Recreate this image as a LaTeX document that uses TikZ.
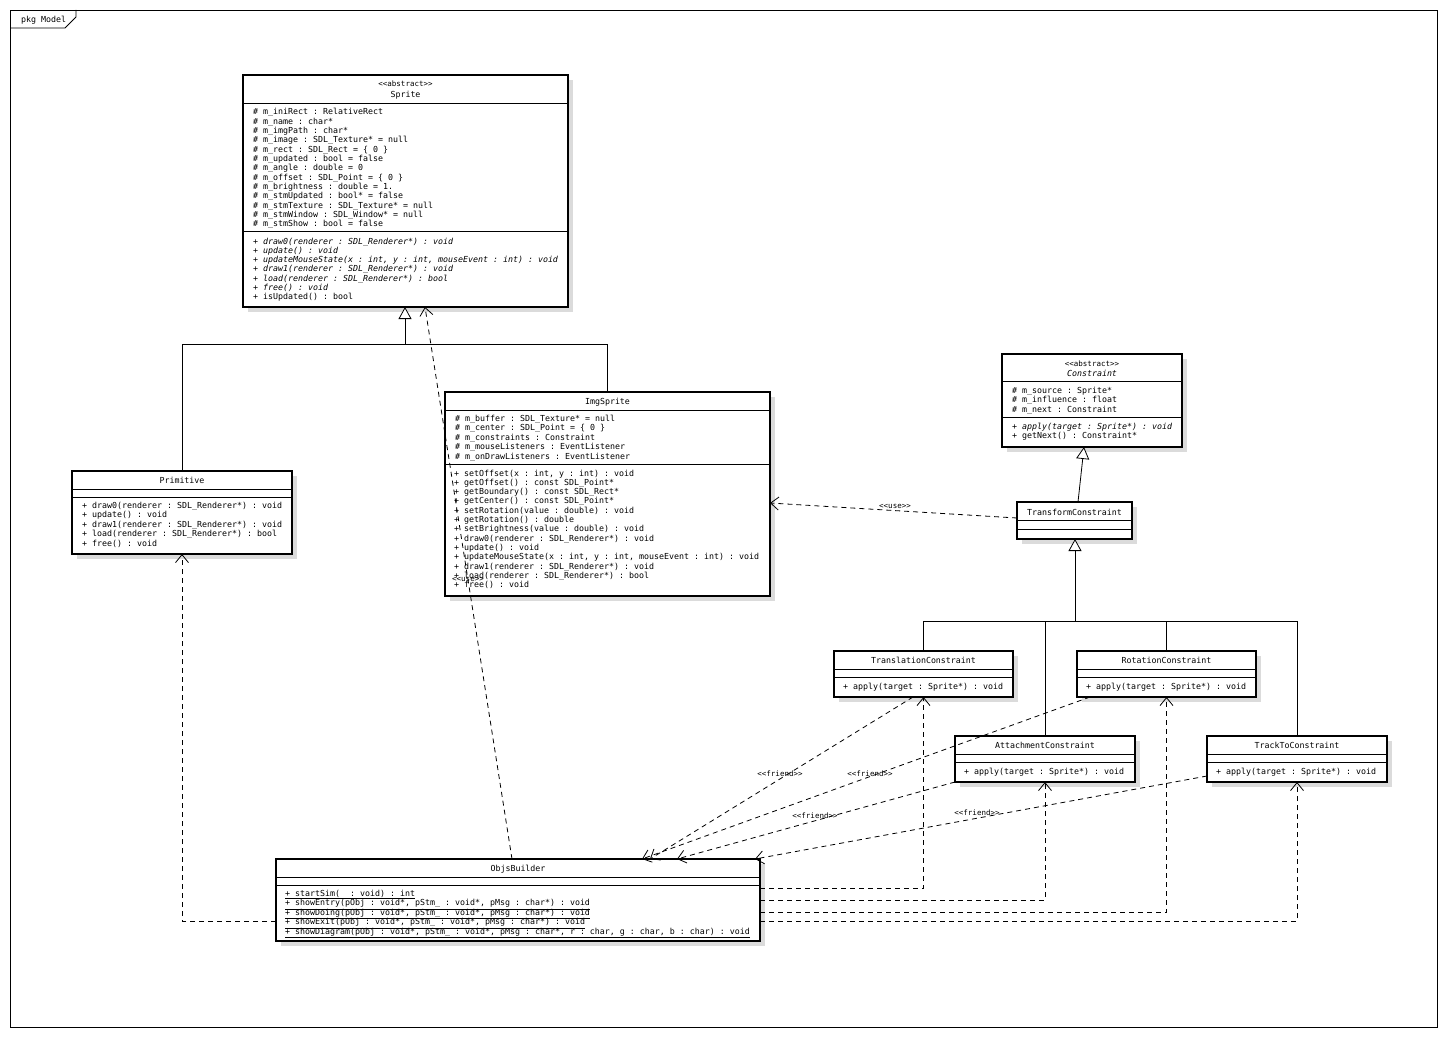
\documentclass[tikz,border=0pt]{standalone}
\usepackage{fontspec}
\setmonofont{DejaVu Sans Mono}
\usetikzlibrary{arrows.meta,shadows}
\definecolor{shade}{gray}{0.86}
\newcommand\umlfont{\ttfamily\fontsize{8.3}{9.33}\selectfont}
\newcommand\stfont{\ttfamily\fontsize{7.5}{9}\selectfont}
% rows of a compartment: prefix, x, first baseline, step, list of rows
\newcommand\umlrows[5]{%
  \foreach [count=\n] \row in {#5} {
    \node[row] (#1\n) at (#2, {#3+(\n-1)*#4}) {\row};
  }}
\begin{document}
\begin{tikzpicture}[x=1pt,y=-1pt,
  cls/.style={draw, line width=1.6pt, fill=white, inner sep=0pt, outer sep=0pt,
    drop shadow={shadow xshift=5pt, shadow yshift=-5pt, fill=shade, opacity=1}},
  sep/.style={line width=0.8pt},
  row/.style={anchor=base west, inner sep=0pt, font=\umlfont},
  title/.style={anchor=base, inner sep=0pt, font=\umlfont},
  stereo/.style={anchor=base, inner sep=0pt, font=\stfont},
  tag/.style={anchor=base, inner sep=0pt, font=\stfont},
  conn/.style={line width=0.8pt},
  inh/.style={conn, -{Triangle[open, length=12pt, width=13pt, fill=white]}},
  dep/.style={conn, dash pattern=on 5pt off 4pt, -{Straight Barb[length=8pt, width=13pt]}},
]
\useasboundingbox (0,0) rectangle (1448,1038);
\fill[white] (0,0) rectangle (1448,1038);

% package frame
\draw[line width=0.8pt] (10,10) rectangle (1437,1027);
\draw[line width=0.8pt] (10,28) -- (65,28) -- (76,17) -- (76,10);
\node[row] (pkg) at (21,23) {pkg Model};

% ---------- Sprite ----------
\node[cls, minimum width=325pt, minimum height=232pt] (sprite) at (405.5,191) {};
\node[stereo] (sprite-st) at (405.5,87) {<<abstract>>};
\node[title] (sprite-name) at (405.5,98) {Sprite};
\draw[sep] (sprite.west |- 0,103) -- (sprite.east |- 0,103);
\draw[sep] (sprite.west |- 0,231) -- (sprite.east |- 0,231);
\umlrows{sprite-a}{253}{115}{9.33}{
  {\# m\_iniRect : RelativeRect},
  {\# m\_name : char*},
  {\# m\_imgPath : char*},
  {\# m\_image : SDL\_Texture* = null},
  {\# m\_rect : SDL\_Rect = \{ 0 \}},
  {\# m\_updated : bool = false},
  {\# m\_angle : double = 0},
  {\# m\_offset : SDL\_Point = \{ 0 \}},
  {\# m\_brightness : double = 1.},
  {\# m\_stmUpdated : bool* = false},
  {\# m\_stmTexture : SDL\_Texture* = null},
  {\# m\_stmWindow : SDL\_Window* = null},
  {\# m\_stmShow : bool = false}}
\umlrows{sprite-m}{253}{244}{9.33}{
  {\itshape + draw0(renderer : SDL\_Renderer*) : void},
  {\itshape + update() : void},
  {\itshape + updateMouseState(x : int, y : int, mouseEvent : int) : void},
  {\itshape + draw1(renderer : SDL\_Renderer*) : void},
  {\itshape + load(renderer : SDL\_Renderer*) : bool},
  {\itshape + free() : void},
  {+ isUpdated() : bool}}

% ---------- Primitive ----------
\node[cls, minimum width=220pt, minimum height=83pt] (primitive) at (182,512.5) {};
\node[title] (primitive-name) at (182,483) {Primitive};
\draw[sep] (primitive.west |- 0,489) -- (primitive.east |- 0,489);
\draw[sep] (primitive.west |- 0,497) -- (primitive.east |- 0,497);
\umlrows{primitive-m}{82}{508}{9.5}{
  {+ draw0(renderer : SDL\_Renderer*) : void},
  {+ update() : void},
  {+ draw1(renderer : SDL\_Renderer*) : void},
  {+ load(renderer : SDL\_Renderer*) : bool},
  {+ free() : void}}

% ---------- ImgSprite ----------
\node[cls, minimum width=325pt, minimum height=204pt] (imgsprite) at (607.5,494) {};
\node[title] (imgsprite-name) at (607.5,404) {ImgSprite};
\draw[sep] (imgsprite.west |- 0,410) -- (imgsprite.east |- 0,410);
\draw[sep] (imgsprite.west |- 0,464) -- (imgsprite.east |- 0,464);
\umlrows{imgsprite-a}{455}{421}{9.5}{
  {\# m\_buffer : SDL\_Texture* = null},
  {\# m\_center : SDL\_Point = \{ 0 \}},
  {\# m\_constraints : Constraint},
  {\# m\_mouseListeners : EventListener},
  {\# m\_onDrawListeners : EventListener}}
\umlrows{imgsprite-m}{454}{476}{9.33}{
  {+ setOffset(x : int, y : int) : void},
  {+ getOffset() : const SDL\_Point*},
  {+ getBoundary() : const SDL\_Rect*},
  {+ getCenter() : const SDL\_Point*},
  {+ setRotation(value : double) : void},
  {+ getRotation() : double},
  {+ setBrightness(value : double) : void},
  {+ draw0(renderer : SDL\_Renderer*) : void},
  {+ update() : void},
  {+ updateMouseState(x : int, y : int, mouseEvent : int) : void},
  {+ draw1(renderer : SDL\_Renderer*) : void},
  {+ load(renderer : SDL\_Renderer*) : bool},
  {+ free() : void}}

% ---------- Constraint ----------
\node[cls, minimum width=180pt, minimum height=93pt] (constraint) at (1092,400.5) {};
\node[stereo] (constraint-st) at (1092,366) {<<abstract>>};
\node[title, font=\umlfont\itshape] (constraint-name) at (1092,376) {Constraint};
\draw[sep] (constraint.west |- 0,381) -- (constraint.east |- 0,381);
\draw[sep] (constraint.west |- 0,417) -- (constraint.east |- 0,417);
\umlrows{constraint-a}{1012}{393}{9.5}{
  {\# m\_source : Sprite*},
  {\# m\_influence : float},
  {\# m\_next : Constraint}}
\umlrows{constraint-m}{1012}{429}{9.5}{
  {\itshape + apply(target : Sprite*) : void},
  {+ getNext() : Constraint*}}

% ---------- TransformConstraint ----------
\node[cls, minimum width=115pt, minimum height=37pt] (transform) at (1074.5,520.5) {};
\node[title] (transform-name) at (1074.5,515) {TransformConstraint};
\draw[sep] (transform.west |- 0,520) -- (transform.east |- 0,520);
\draw[sep] (transform.west |- 0,529) -- (transform.east |- 0,529);

% ---------- concrete constraints ----------
\node[cls, minimum width=179pt, minimum height=46pt] (translation) at (923.5,674) {};
\node[title] (translation-name) at (923.5,663) {TranslationConstraint};
\draw[sep] (translation.west |- 0,669) -- (translation.east |- 0,669);
\draw[sep] (translation.west |- 0,677) -- (translation.east |- 0,677);
\node[row] (translation-m) at (843,689) {+ apply(target : Sprite*) : void};

\node[cls, minimum width=179pt, minimum height=46pt] (rotation) at (1166.5,674) {};
\node[title] (rotation-name) at (1166.5,663) {RotationConstraint};
\draw[sep] (rotation.west |- 0,669) -- (rotation.east |- 0,669);
\draw[sep] (rotation.west |- 0,677) -- (rotation.east |- 0,677);
\node[row] (rotation-m) at (1086,689) {+ apply(target : Sprite*) : void};

\node[cls, minimum width=180pt, minimum height=46pt] (attachment) at (1045,759) {};
\node[title] (attachment-name) at (1045,748) {AttachmentConstraint};
\draw[sep] (attachment.west |- 0,754) -- (attachment.east |- 0,754);
\draw[sep] (attachment.west |- 0,762) -- (attachment.east |- 0,762);
\node[row] (attachment-m) at (964,774) {+ apply(target : Sprite*) : void};

\node[cls, minimum width=180pt, minimum height=46pt] (trackto) at (1297,759) {};
\node[title] (trackto-name) at (1297,748) {TrackToConstraint};
\draw[sep] (trackto.west |- 0,754) -- (trackto.east |- 0,754);
\draw[sep] (trackto.west |- 0,762) -- (trackto.east |- 0,762);
\node[row] (trackto-m) at (1216,774) {+ apply(target : Sprite*) : void};

% ---------- ObjsBuilder ----------
\node[cls, minimum width=484pt, minimum height=82pt] (objs) at (518,900) {};
\node[title] (objs-name) at (518,871) {ObjsBuilder};
\draw[sep] (objs.west |- 0,877) -- (objs.east |- 0,877);
\draw[sep] (objs.west |- 0,885) -- (objs.east |- 0,885);
\umlrows{objs-m}{285}{896}{9.5}{
  {\underline{+ startSim(\ \ : void) : int}},
  {\underline{+ showEntry(pObj : void*, pStm\_ : void*, pMsg : char*) : void}},
  {\underline{+ showDoing(pObj : void*, pStm\_ : void*, pMsg : char*) : void}},
  {\underline{+ showExit(pObj : void*, pStm\_ : void*, pMsg : char*) : void}},
  {\underline{+ showDiagram(pObj : void*, pStm\_ : void*, pMsg : char*, r : char, g : char, b : char) : void}}}

% ---------- generalizations ----------
\coordinate (sj) at (405,344);
\draw[conn] (primitive.north) |- (sj);
\draw[conn] (imgsprite.north) |- (sj);
\draw[inh] (sj) -- (sprite.south -| sj);

\draw[inh] (transform.north -| 1078,0) -- (constraint.south -| 1084,0);

\coordinate (tj) at (1075,621);
\draw[conn] (translation.north) |- (tj);
\draw[conn] (attachment.north) |- (tj);
\draw[conn] (rotation.north) |- (tj);
\draw[conn] (trackto.north) |- (tj);
\draw[inh] (tj) -- (transform.south -| tj);

% ---------- dependencies ----------
\draw[dep] (transform.west |- 0,518) -- (imgsprite.east |- 0,503);
\node[tag] (use1) at (895,508) {<<use>>};

\draw[dep] (objs.north -| 512,0) -- (sprite.south -| 425,0);
\node[tag] (use2) at (468,581) {<<use>>};

\draw[dep] (objs.west |- 0,921) -| (primitive.south);

\draw[dep] (objs.east |- 0,888) -| (translation.south);
\draw[dep] (objs.east |- 0,900) -| (attachment.south);
\draw[dep] (objs.east |- 0,912) -| (rotation.south);
\draw[dep] (objs.east |- 0,921) -| (trackto.south);

% friend relations
\draw[dep] (translation.south -| 913,0) -- (objs.north -| 650,0);
\draw[dep] (rotation.south -| 1090,0) -- (objs.north -| 642,0);
\draw[dep] (attachment.south west) -- (objs.north -| 677,0);
\draw[dep] (trackto.west |- 0,776) -- (objs.north -| 755,0);
\node[tag] (fr1) at (780,776) {<<friend>>};
\node[tag] (fr2) at (870,776) {<<friend>>};
\node[tag] (fr3) at (815,818) {<<friend>>};
\node[tag] (fr4) at (977,815) {<<friend>>};
\end{tikzpicture}
\end{document}
